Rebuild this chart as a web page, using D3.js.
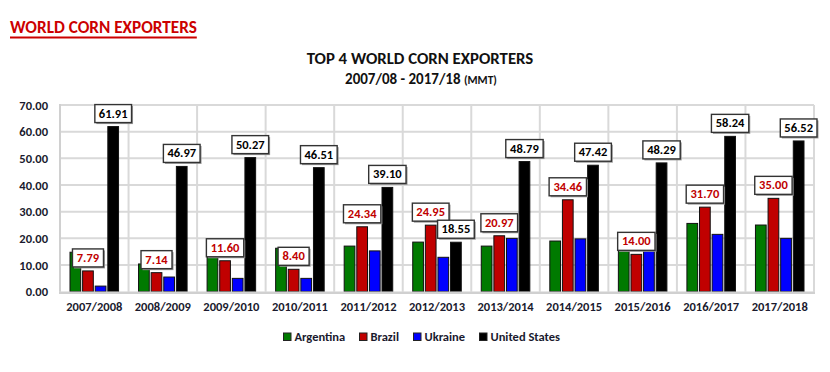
<!DOCTYPE html>
<html><head><meta charset="utf-8">
<script src="https://cdn.jsdelivr.net/npm/d3@7"></script>
<style>
body{margin:0;background:#fff;}
svg{display:block;font-family:Carlito,Calibri,Lato,sans-serif;}
</style></head>
<body>
<svg id="chart" width="830" height="372"></svg>
<script>
const categories = ["2007/2008","2008/2009","2009/2010","2010/2011","2011/2012","2012/2013","2013/2014","2014/2015","2015/2016","2016/2017","2017/2018"];
const seriesNames = ["Argentina","Brazil","Ukraine","United States"];
const seriesColors = ["#007A00","#C00000","#0000FF","#000000"];
const argentina = [14.8, 10.4, 16.5, 16.3, 17.1, 18.6, 17.1, 19.0, 21.7, 25.6, 25.0];
const brazil = [7.79, 7.14, 11.60, 8.40, 24.34, 24.95, 20.97, 34.46, 14.00, 31.70, 35.00];
const ukraine = [2.1, 5.5, 5.0, 5.0, 15.3, 12.9, 20.0, 19.8, 16.6, 21.5, 20.0];
const unitedStates = [61.91, 46.97, 50.27, 46.51, 39.10, 18.55, 48.79, 47.42, 48.29, 58.24, 56.52];
const yTicks = [0,10,20,30,40,50,60,70];
const headerTitle = "WORLD CORN EXPORTERS";
const chartTitle = "TOP 4 WORLD CORN EXPORTERS";
const chartSubtitle = "2007/08 - 2017/18";
const unitLabel = "(MMT)";

const seriesValues = [argentina, brazil, ukraine, unitedStates];
const labelled = {1:"#C00000", 3:"#000000"};

const svg = d3.select("#chart");
const plot = {left:60, right:814, top:105, bottom:291.7};

const x = d3.scaleBand().domain(categories).range([plot.left, plot.right]).paddingInner(0).paddingOuter(0);
const x1 = d3.scaleBand().domain(d3.range(4)).range([10, x.bandwidth()-10]).paddingInner(0.15).paddingOuter(0);
const y = d3.scaleLinear().domain([0,70]).range([plot.bottom, plot.top]);

// header
const h = svg.append("text").attr("x",10).attr("y",33).attr("fill","#CC0000")
  .attr("font-weight","bold").attr("font-size",17.2).text(headerTitle);
const hb = h.node().getBBox();
svg.append("line").attr("x1",hb.x).attr("x2",hb.x+hb.width).attr("y1",37.5).attr("y2",37.5)
  .attr("stroke","#CC0000").attr("stroke-width",1.8);

svg.append("text").attr("x",420).attr("y",64).attr("text-anchor","middle")
  .attr("font-weight","bold").attr("font-size",16.8).attr("fill","#111").text(chartTitle);
const st = svg.append("text").attr("x",421).attr("y",84).attr("text-anchor","middle")
  .attr("font-weight","bold").attr("font-size",15).attr("fill","#111");
st.append("tspan").text(chartSubtitle+" ");
st.append("tspan").attr("font-size",11.5).text(unitLabel);

// grid
const grid = svg.append("g");
yTicks.filter(d=>d>0).forEach(t=>{
  grid.append("line").attr("x1",plot.left).attr("x2",plot.right).attr("y1",y(t)).attr("y2",y(t))
    .attr("stroke","#d9d9d9").attr("stroke-width",2);
});
categories.forEach(c=>{
  grid.append("line").attr("x1",x(c)+x.bandwidth()).attr("x2",x(c)+x.bandwidth())
    .attr("y1",y(70)).attr("y2",y(0)).attr("stroke","#d9d9d9").attr("stroke-width",2);
});
grid.append("line").attr("x1",plot.left).attr("x2",plot.left).attr("y1",y(70)-1).attr("y2",y(0))
  .attr("stroke","#d0d0d0").attr("stroke-width",2);

// y axis labels
const yAxis = d3.axisLeft(y).tickValues(yTicks).tickFormat(d3.format(".2f")).tickSize(0).tickPadding(12);
const ya = svg.append("g").attr("transform",`translate(${plot.left},0)`).call(yAxis);
ya.select(".domain").remove();
ya.selectAll("text").attr("font-family","Carlito,Calibri,Lato,sans-serif").attr("font-size",12.5)
  .attr("font-weight","bold").attr("fill","#1a1a2e");

// x axis labels
const xAxis = d3.axisBottom(x).tickSize(0).tickPadding(10);
const xa = svg.append("g").attr("transform",`translate(0,${plot.bottom})`).call(xAxis);
xa.select(".domain").remove();
xa.selectAll("text").attr("font-family","Carlito,Calibri,Lato,sans-serif").attr("font-size",12.5)
  .attr("font-weight","bold").attr("fill","#1a1a2e");

// bars
const bars = svg.append("g");
categories.forEach((c,i)=>{
  seriesValues.forEach((vals,s)=>{
    bars.append("rect").attr("x",x(c)+x1(s)).attr("y",y(vals[i]))
      .attr("width",x1.bandwidth()).attr("height",y(0)-y(vals[i]))
      .attr("fill",seriesColors[s]).attr("stroke","#111").attr("stroke-width",1);
  });
});

// baseline
svg.append("line").attr("x1",plot.left-1).attr("x2",plot.right+1).attr("y1",plot.bottom+1).attr("y2",plot.bottom+1)
  .attr("stroke","#d0d0d0").attr("stroke-width",2.5);

// labels
const labs = svg.append("g");
categories.forEach((c,i)=>{
  [1,3].forEach(s=>{
    const v = seriesValues[s][i];
    const cx = x(c)+x1(s)+x1.bandwidth()/2;
    const by = y(v)-4;
    const g = labs.append("g");
    const t = g.append("text").attr("x",cx).attr("y",by-5).attr("text-anchor","middle")
      .attr("font-weight","bold").attr("font-size",12.5).attr("fill",labelled[s]).text(v.toFixed(2));
    const bb = t.node().getBBox();
    const w = bb.width+8, hgt = 18;
    g.insert("rect","text").attr("x",cx-w/2+1.5).attr("y",by-hgt+1.5).attr("width",w).attr("height",hgt)
      .attr("fill","#9a9a9a");
    g.insert("rect","text").attr("x",cx-w/2).attr("y",by-hgt).attr("width",w).attr("height",hgt)
      .attr("fill","#fff").attr("stroke","#333").attr("stroke-width",1.4);
  });
});

// legend
const legendX = [283.5, 359.5, 413.5, 479.5];
const lg = svg.append("g");
seriesNames.forEach((n,s)=>{
  lg.append("rect").attr("x",legendX[s]).attr("y",333).attr("width",7.5).attr("height",7.5)
    .attr("fill",seriesColors[s]).attr("stroke","#222").attr("stroke-width",1);
  lg.append("text").attr("x",legendX[s]+11).attr("y",341).attr("font-weight","bold")
    .attr("font-size",12.5).attr("fill","#1a1a2e").text(n);
});
</script>
</body></html>
